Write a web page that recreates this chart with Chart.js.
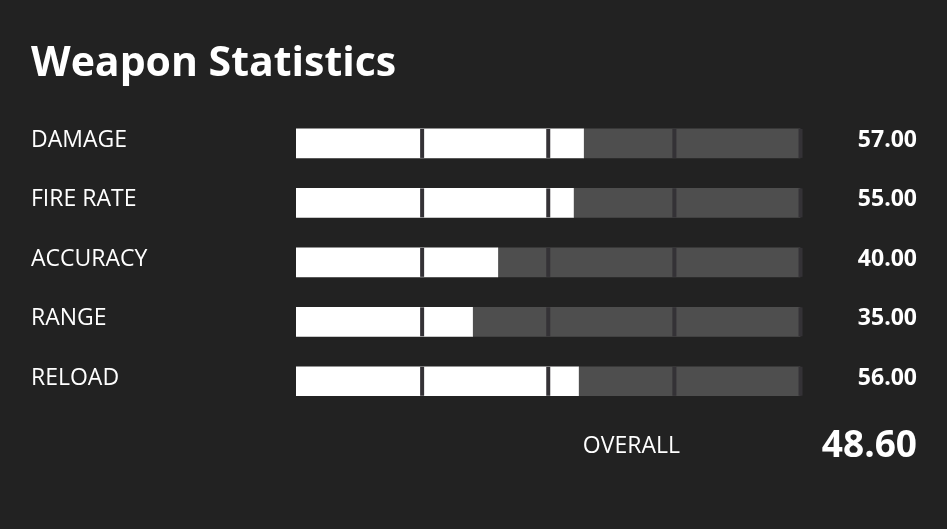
<!DOCTYPE html>
<html>
<head>
<meta charset="utf-8">
<script src="https://cdn.jsdelivr.net/npm/chart.js@4"></script>
<style>
  html, body { margin: 0; padding: 0; background: #222222; }
  #wrap { width: 947px; height: 529px; position: relative; }
</style>
</head>
<body>
<div id="wrap"><canvas id="statsChart"></canvas></div>
<script>
// weapon stats, scale 0-100
const statNames = ['DAMAGE', 'FIRE RATE', 'ACCURACY', 'RANGE', 'RELOAD'];
const statValues = [57, 55, 40, 35, 56];
const statMax = 100;
const segmentTicks = [25, 50, 75, 100];
const chartTitle = 'Weapon Statistics';
const overallLabel = 'OVERALL';

const valueLabels = statValues.map(v => v.toFixed(2));
const restValues = statValues.map(v => statMax - v);
const overallValue = statValues.reduce((a, b) => a + b, 0) / statValues.length;

// gaps between the 4 bar segments
const segmentGaps = {
    id: 'segmentGaps',
    afterDatasetsDraw(chart) {
        const ctx = chart.ctx;
        const xScale = chart.scales.x;
        const meta = chart.getDatasetMeta(0);
        ctx.save();
        ctx.fillStyle = '#343236';
        meta.data.forEach(bar => {
            const h = bar.height;
            segmentTicks.forEach(t => {
                const x = xScale.getPixelForValue(t);
                ctx.fillRect(x - 2, bar.y - h / 2, 4, h);
            });
        });
        ctx.restore();
    }
};

// OVERALL line under the bars
const overallRow = {
    id: 'overallRow',
    afterDraw(chart) {
        const ctx = chart.ctx;
        const area = chart.chartArea;
        const y = area.bottom + 35;
        ctx.save();
        ctx.fillStyle = '#ffffff';
        ctx.textBaseline = 'middle';
        ctx.font = '23px "Open Sans"';
        ctx.textAlign = 'right';
        ctx.fillText(overallLabel, 680, y);
        ctx.font = 'bold 37px "Open Sans"';
        ctx.fillText(overallValue.toFixed(2), chart.width - 30, y);
        ctx.restore();
    }
};

function drawChart() {
    const ctx = document.getElementById('statsChart').getContext('2d');
    new Chart(ctx, {
        type: 'bar',
        data: {
            labels: statNames,
            datasets: [
                {
                    label: 'value',
                    data: statValues,
                    backgroundColor: '#ffffff',
                    barThickness: 29,
                    borderWidth: 0
                },
                {
                    label: 'rest',
                    data: restValues,
                    backgroundColor: '#4e4e4e',
                    barThickness: 29,
                    borderWidth: 0
                }
            ]
        },
        options: {
            indexAxis: 'y',
            responsive: true,
            maintainAspectRatio: false,
            animation: false,
            layout: {
                padding: { left: 31, right: 30, top: 0, bottom: 118 }
            },
            plugins: {
                legend: { display: false },
                tooltip: { enabled: false },
                title: {
                    display: true,
                    text: chartTitle,
                    align: 'start',
                    color: '#ffffff',
                    font: { family: 'Open Sans', size: 41, weight: 'bold', lineHeight: 1.2 },
                    padding: { top: 40, bottom: 24.5 }
                }
            },
            scales: {
                x: {
                    display: false,
                    stacked: true,
                    min: 0,
                    max: statMax
                },
                y: {
                    stacked: true,
                    position: 'left',
                    grid: { display: false },
                    border: { display: false },
                    ticks: {
                        color: '#ffffff',
                        crossAlign: 'far',
                        labelOffset: -3,
                        font: { family: 'Open Sans', size: 23 }
                    },
                    afterFit(scale) { scale.width = 265; }
                },
                y2: {
                    type: 'category',
                    labels: valueLabels,
                    position: 'right',
                    grid: { display: false },
                    border: { display: false },
                    ticks: {
                        color: '#ffffff',
                        crossAlign: 'far',
                        labelOffset: -3,
                        font: { family: 'Open Sans', size: 23, weight: 'bold' }
                    },
                    afterFit(scale) { scale.width = 116.5; }
                }
            }
        },
        plugins: [segmentGaps, overallRow]
    });
}

document.fonts.load('bold 40px "Open Sans"').then(() => document.fonts.load('22px "Open Sans"')).then(drawChart, drawChart);
</script>
</body>
</html>
